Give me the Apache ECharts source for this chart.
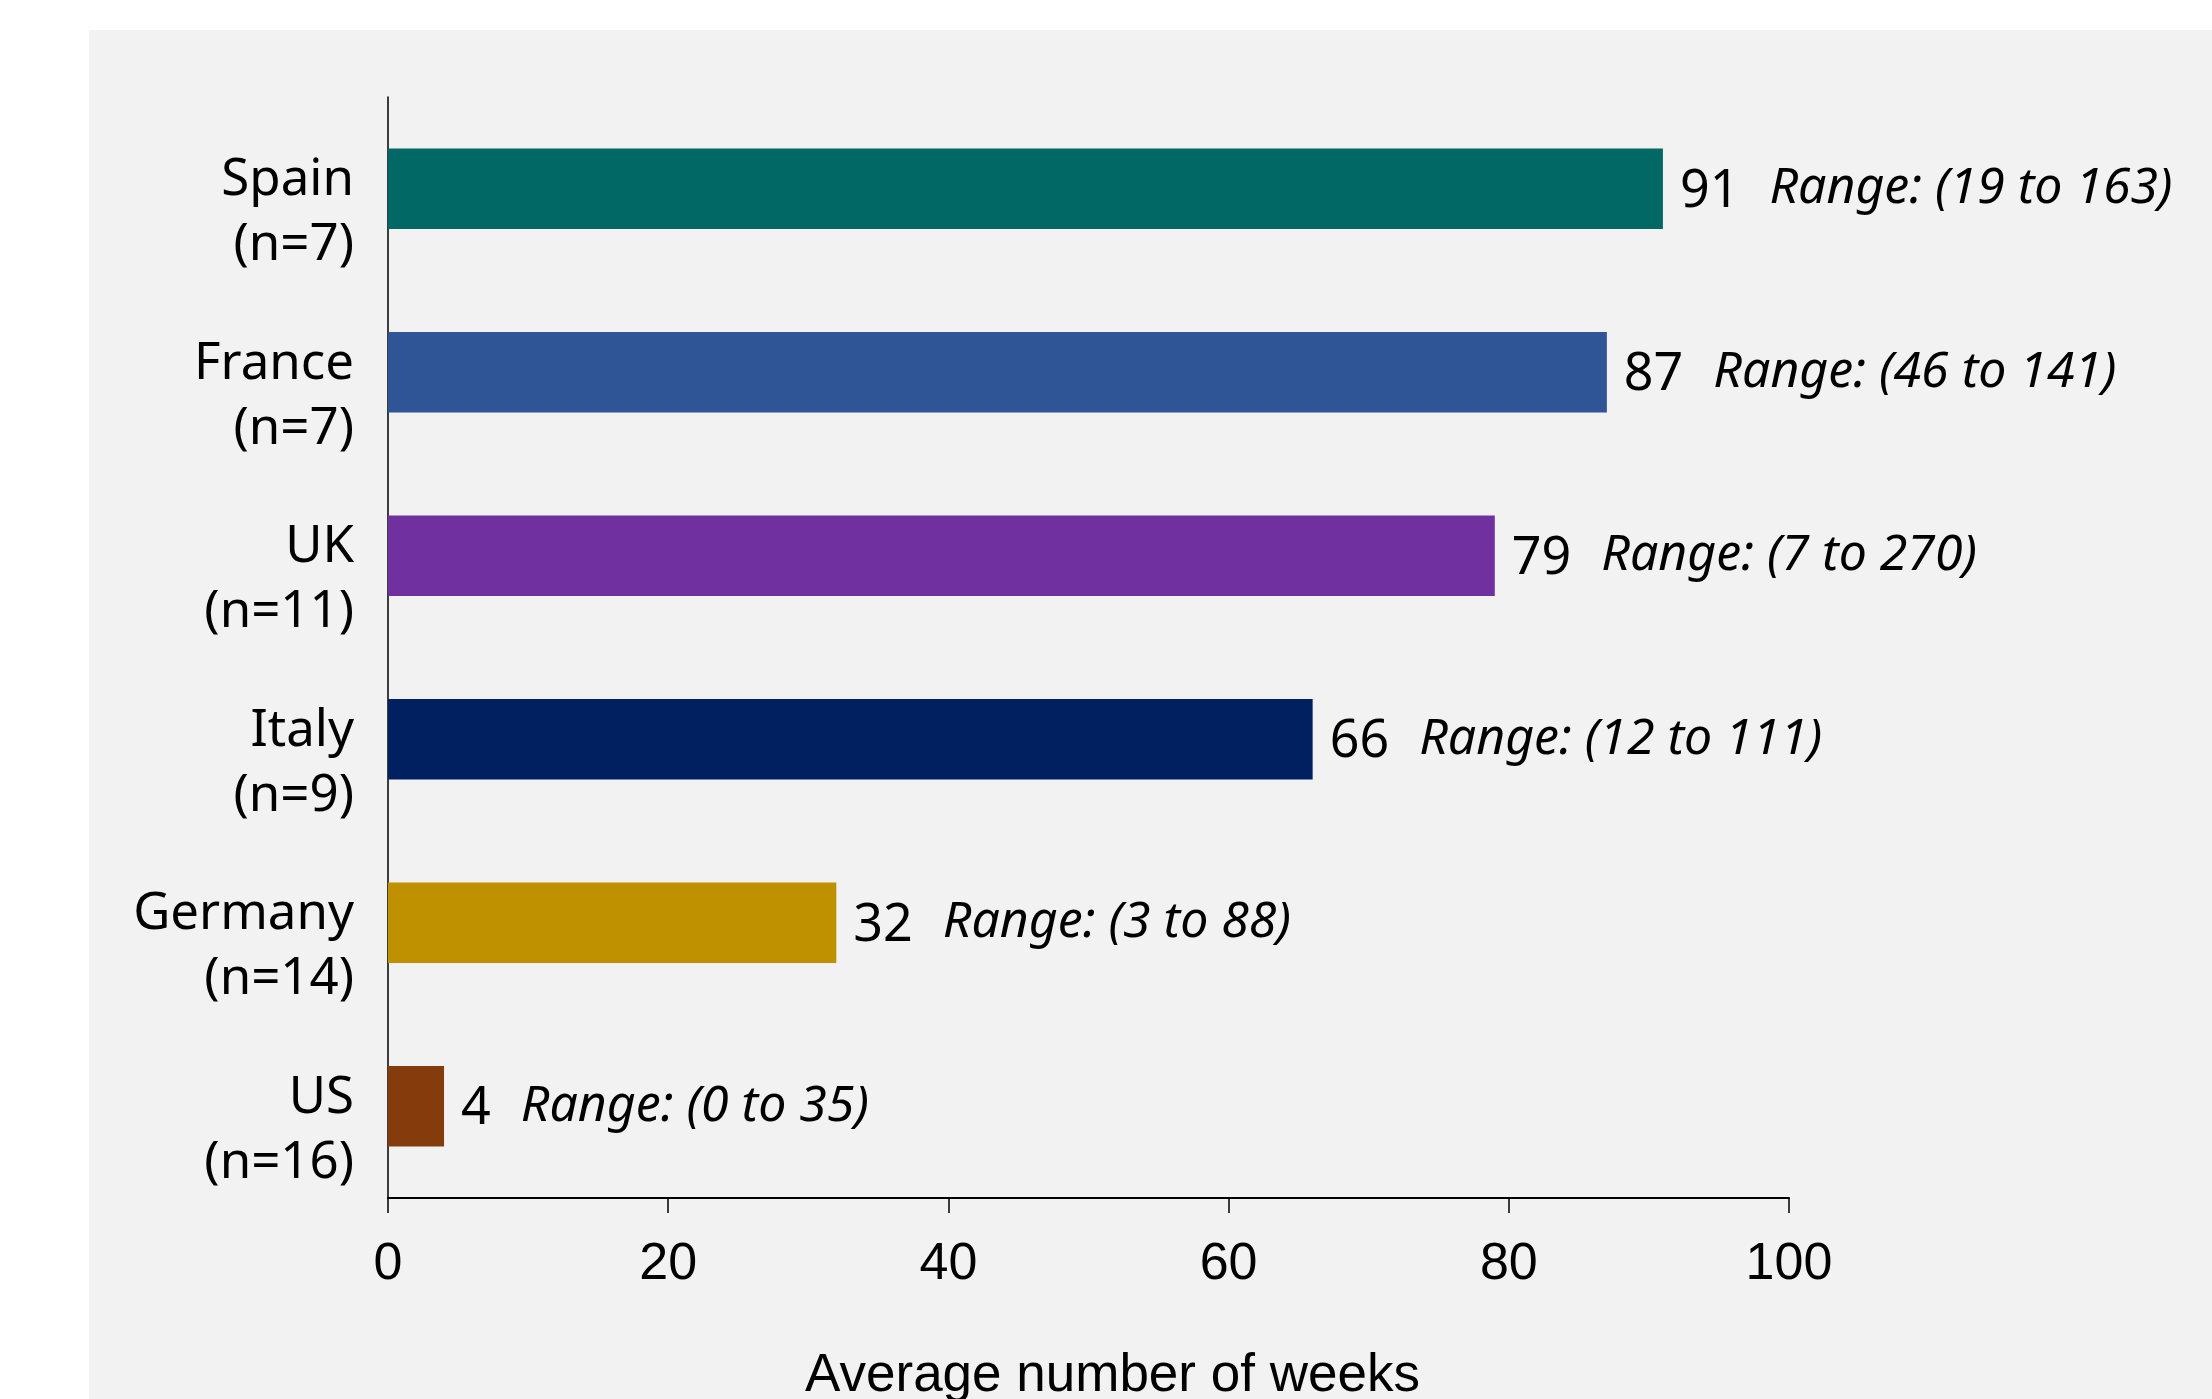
<!DOCTYPE html>
<html>
<head>
<meta charset="utf-8">
<script src="https://cdn.jsdelivr.net/npm/echarts@6/dist/echarts.min.js"></script>
<style>
html,body{margin:0;padding:0;background:#ffffff;}
#chart{width:2212px;height:1399px;}
</style>
</head>
<body>
<div id="chart"></div>
<script>
const countries = ['Spain', 'France', 'UK', 'Italy', 'Germany', 'US'];
const sampleSizes = [7, 7, 11, 9, 14, 16];
const averageWeeks = [91, 87, 79, 66, 32, 4];
const rangeMin = [19, 46, 7, 12, 3, 0];
const rangeMax = [163, 141, 270, 111, 88, 35];
const barColors = ['#016866', '#2f5597', '#7030a0', '#002060', '#bf9000', '#843c0c'];
const xTicks = [0, 20, 40, 60, 80, 100];
const xAxisTitle = 'Average number of weeks';

const chart = echarts.init(document.getElementById('chart'), null, {renderer: 'canvas'});
chart.setOption({
  animation: false,
  backgroundColor: '#ffffff',
  graphic: [{
    type: 'rect', left: 89, top: 30, z: -10, silent: true,
    shape: {width: 2123, height: 1369},
    style: {fill: '#f2f2f2'}
  }],
  grid: {left: 388, top: 97, right: 423, bottom: 201, containLabel: false, outerBoundsMode: 'none'},
  xAxis: {
    type: 'value',
    min: xTicks[0], max: xTicks[xTicks.length - 1], interval: 20,
    splitLine: {show: false},
    axisLine: {show: true, lineStyle: {color: '#000', width: 2}},
    axisTick: {show: true, length: 15, lineStyle: {color: '#000', width: 1.5}},
    axisLabel: {fontFamily: 'Liberation Sans', fontSize: 52, color: '#000', margin: 41},
    name: xAxisTitle,
    nameLocation: 'middle',
    nameGap: 152,
    nameTextStyle: {fontFamily: 'Liberation Sans', fontSize: 53, color: '#000', padding: [0, 0, 0, 48]}
  },
  yAxis: {
    type: 'category',
    inverse: true,
    data: countries,
    axisLine: {show: true, lineStyle: {color: '#000', width: 1.5}},
    axisTick: {show: false},
    axisLabel: {
      interval: 0,
      hideOverlap: false,
      margin: 34,
      align: 'right',
      formatter: (c, i) => '{a|' + c + '}\n{b|(n=' + sampleSizes[i] + ')}',
      rich: {
        a: {fontFamily: 'Noto Sans', fontSize: 51, color: '#000', lineHeight: 114, align: 'right'},
        b: {fontFamily: 'Noto Sans', fontSize: 51, color: '#000', lineHeight: 16, align: 'right'}
      }
    }
  },
  series: [{
    type: 'bar',
    data: averageWeeks.map((v, i) => ({value: v, itemStyle: {color: barColors[i]}})),
    barWidth: '44%',
    label: {
      show: true,
      position: 'right',
      distance: 17,
      formatter: p => '{v|' + p.value + '}{r|Range: (' + rangeMin[p.dataIndex] + ' to ' + rangeMax[p.dataIndex] + ')}',
      rich: {
        v: {fontFamily: 'Noto Sans', fontSize: 52, color: '#000', padding: [6, 0, 0, 0]},
        r: {fontFamily: 'Noto Sans', fontStyle: 'italic', fontSize: 50, color: '#000', padding: [0, 0, 0, 30]}
      }
    }
  }]
});
</script>
</body>
</html>
